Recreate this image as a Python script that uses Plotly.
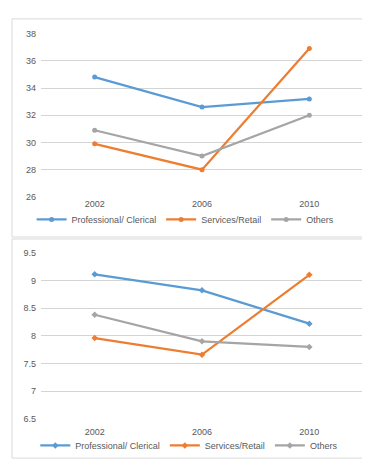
import plotly.graph_objects as go

years = ["2002", "2006", "2010"]
series_names = ["Professional/ Clerical", "Services/Retail", "Others"]
top_prof = [34.8, 32.6, 33.2]
top_serv = [29.9, 28.0, 36.9]
top_oth = [30.9, 29.0, 32.0]
bot_prof = [9.11, 8.82, 8.22]
bot_serv = [7.96, 7.66, 9.1]
bot_oth = [8.38, 7.9, 7.8]
top_ticks = [26, 28, 30, 32, 34, 36, 38]
bot_ticks = [6.5, 7, 7.5, 8, 8.5, 9, 9.5]

colors = ["#5B9BD5", "#ED7D31", "#A5A5A5"]
W, H = 370, 460
font = "Liberation Sans, Arial, sans-serif"

fig = go.Figure()
for vals, name, c in zip([top_prof, top_serv, top_oth], series_names, colors):
    fig.add_trace(go.Scatter(x=years, y=vals, name=name, mode="lines+markers",
                             line=dict(color=c, width=2.2), marker=dict(color=c, size=5),
                             xaxis="x", yaxis="y", legend="legend"))
for vals, name, c in zip([bot_prof, bot_serv, bot_oth], series_names, colors):
    fig.add_trace(go.Scatter(x=years, y=vals, name=name, mode="lines+markers",
                             line=dict(color=c, width=2.2), marker=dict(color=c, size=5, symbol="diamond"),
                             xaxis="x2", yaxis="y2", legend="legend2"))

def py(p):
    return 1 - p / H

xdom = [33 / W, 355 / W]
tickfont = dict(family=font, size=9, color="#595959")
fig.update_layout(
    width=W, height=H, margin=dict(l=0, r=0, t=0, b=0),
    paper_bgcolor="white", plot_bgcolor="white",
    xaxis=dict(domain=xdom, anchor="y", type="category", range=[-0.5, 2.5], showgrid=False,
               showline=False, ticks="", tickfont=tickfont),
    yaxis=dict(domain=[py(188), py(21)], anchor="x", range=[26, 38],
               tickvals=top_ticks, showgrid=True, gridcolor="#D4D4D4", gridwidth=1,
               zeroline=False, showline=False, tickfont=tickfont, ticklabelstandoff=4),
    xaxis2=dict(domain=xdom, anchor="y2", type="category", range=[-0.5, 2.5], showgrid=False,
                showline=False, ticks="", tickfont=tickfont, ticklabelstandoff=6),
    yaxis2=dict(domain=[py(415), py(245)], anchor="x2", range=[6.5, 9.5],
                tickvals=bot_ticks, showgrid=True, gridcolor="#D4D4D4", gridwidth=1,
                zeroline=False, showline=False, tickfont=tickfont, ticklabelstandoff=4),
    legend=dict(orientation="h", x=0.48, xanchor="center", y=py(211), yanchor="middle",
                font=dict(family=font, size=9, color="#595959"), bgcolor="rgba(0,0,0,0)",
                itemwidth=30, tracegroupgap=0),
    legend2=dict(orientation="h", x=0.49, xanchor="center", y=py(442), yanchor="middle",
                 font=dict(family=font, size=9, color="#595959"), bgcolor="rgba(0,0,0,0)",
                 itemwidth=30, tracegroupgap=0),
    shapes=[
        dict(type="rect", xref="paper", yref="paper", x0=4 / W, x1=362 / W, y0=py(229), y1=py(6),
             line=dict(color="#D9D9D9", width=1)),
        dict(type="rect", xref="paper", yref="paper", x0=4 / W, x1=362 / W, y0=py(455), y1=py(231),
             line=dict(color="#D9D9D9", width=1)),
    ],
)

fig.write_html("out.html")
